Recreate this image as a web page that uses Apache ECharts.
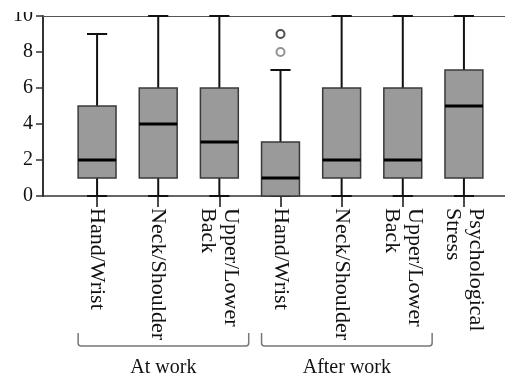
<!DOCTYPE html>
<html><head><meta charset="utf-8">
<script src="https://cdn.jsdelivr.net/npm/echarts@6/dist/echarts.min.js"></script>
<style>html,body{margin:0;padding:0;background:#fff}#c{width:505px;height:373px}</style>
</head><body><div id="c"></div>
<script>
const categories = ['Hand/Wrist', 'Neck/Shoulder', 'Upper/Lower\nBack', 'Hand/Wrist', 'Neck/Shoulder', 'Upper/Lower\nBack', 'Psychological\nStress'];
const whiskerLow  = [0, 0, 0, 0, 0, 0, 0];
const q1          = [1, 1, 1, 0, 1, 1, 1];
const median      = [2, 4, 3, 1, 2, 2, 5];
const q3          = [5, 6, 6, 3, 6, 6, 7];
const whiskerHigh = [9, 10, 10, 7, 10, 10, 10];
const outliers = [[3, 8], [3, 9]];
const groupNames = ['At work', 'After work'];
const groupFrom = [0, 3];
const groupTo = [2, 5];
const yTicks = [0, 2, 4, 6, 8, 10];

const serif = '"Liberation Serif","Times New Roman",serif';
const chart = echarts.init(document.getElementById('c'), null, {renderer: 'canvas'});
const boxData = categories.map((c, i) => [i, whiskerLow[i], q1[i], median[i], q3[i], whiskerHigh[i]]);
const bracketData = groupNames.map((n, i) => [groupFrom[i], groupTo[i]]);

const option = {
  animation: false,
  grid: [
    {left: 43, right: 0, top: 16, height: 180},
    {left: 66.5, width: 428, top: 16, height: 180}
  ],
  xAxis: [
    {gridIndex: 0, type: 'value', min: 0, max: 1,
     axisLine: {show: true, onZero: false, lineStyle: {color: '#333', width: 1.5}},
     axisTick: {show: false}, axisLabel: {show: false}, splitLine: {show: false}},
    {gridIndex: 0, type: 'value', position: 'top', min: 0, max: 1,
     axisLine: {show: true, onZero: false, lineStyle: {color: '#555', width: 1}},
     axisTick: {show: false}, axisLabel: {show: false}, splitLine: {show: false}},
    {gridIndex: 1, type: 'category', data: categories,
     axisLine: {show: false, onZero: false},
     axisTick: {show: true, alignWithLabel: true, length: 11, lineStyle: {color: '#111', width: 1.5}},
     axisLabel: {rotate: -90, margin: 12, interval: 0, fontFamily: serif, fontSize: 22, color: '#111', lineHeight: 23},
     splitLine: {show: false}}
  ],
  yAxis: [
    {gridIndex: 0, type: 'value', min: yTicks[0], max: yTicks[yTicks.length - 1], interval: 2,
     axisLine: {show: true, lineStyle: {color: '#333', width: 2}},
     axisTick: {show: true, length: 7, lineStyle: {color: '#333', width: 1.5}},
     axisLabel: {margin: 10, fontFamily: serif, fontSize: 20, color: '#111'},
     splitLine: {show: false}},
    {gridIndex: 1, type: 'value', min: yTicks[0], max: yTicks[yTicks.length - 1], show: false}
  ],
  series: [
    {
      type: 'custom', xAxisIndex: 2, yAxisIndex: 1, clip: false,
      data: boxData,
      encode: {x: 0, y: [1, 2, 3, 4, 5]},
      renderItem: (params, api) => {
        const x = api.value(0);
        const band = api.size([1, 0])[0];
        const bw = band * 0.62, cw = band * 0.33;
        const pt = v => api.coord([x, v]);
        const lo = pt(api.value(1)), b1 = pt(api.value(2)), md = pt(api.value(3)), b3 = pt(api.value(4)), hi = pt(api.value(5));
        const cx = lo[0];
        const ls = {stroke: '#111', lineWidth: 2};
        return {type: 'group', children: [
          {type: 'line', shape: {x1: cx, y1: lo[1], x2: cx, y2: b1[1]}, style: ls},
          {type: 'line', shape: {x1: cx, y1: b3[1], x2: cx, y2: hi[1]}, style: ls},
          {type: 'line', shape: {x1: cx - cw / 2, y1: lo[1], x2: cx + cw / 2, y2: lo[1]}, style: ls},
          {type: 'line', shape: {x1: cx - cw / 2, y1: hi[1], x2: cx + cw / 2, y2: hi[1]}, style: ls},
          {type: 'rect', shape: {x: cx - bw / 2, y: b3[1], width: bw, height: b1[1] - b3[1]},
           style: {fill: '#9a9a9a', stroke: '#3a3a3a', lineWidth: 1.5}},
          {type: 'line', shape: {x1: cx - bw / 2, y1: md[1], x2: cx + bw / 2, y2: md[1]}, style: {stroke: '#000', lineWidth: 3}}
        ]};
      }
    },
    {
      type: 'scatter', xAxisIndex: 2, yAxisIndex: 1, z: 5,
      symbol: 'emptyCircle', symbolSize: 8,
      data: outliers.map((p, i) => ({value: p, itemStyle: {color: i === 0 ? '#777' : '#222'}})),
      itemStyle: {color: '#444', borderWidth: 1.8}
    },
    {
      type: 'custom', xAxisIndex: 2, yAxisIndex: 1, clip: false,
      data: bracketData,
      encode: {x: [0, 1]},
      renderItem: (params, api) => {
        const a = api.coord([api.value(0), 0]);
        const b = api.coord([api.value(1), 0]);
        const band = api.size([1, 0])[0];
        const x1 = a[0] - band * 0.31, x2 = b[0] + band * 0.48;
        const y0 = a[1] + 137, y1 = a[1] + 150, r = 3;
        const name = groupNames[params.dataIndex];
        return {type: 'group', children: [
          {type: 'path', shape: {pathData: `M${x1} ${y0}L${x1} ${y1 - r}Q${x1} ${y1} ${x1 + r} ${y1}L${x2 - r} ${y1}Q${x2} ${y1} ${x2} ${y1 - r}L${x2} ${y0}`},
           style: {fill: null, stroke: '#777', lineWidth: 1.5}},
          {type: 'text', style: {text: name, x: (x1 + x2) / 2, y: a[1] + 162, align: 'center', verticalAlign: 'top',
            fill: '#111', fontSize: 20, fontFamily: serif}}
        ]};
      }
    }
  ],
  graphic: [
    {type: 'rect', shape: {x: 0, y: 0, width: 42, height: 12}, style: {fill: '#fff'}, z: 100}
  ]
};
chart.setOption(option);
</script>
</body></html>
